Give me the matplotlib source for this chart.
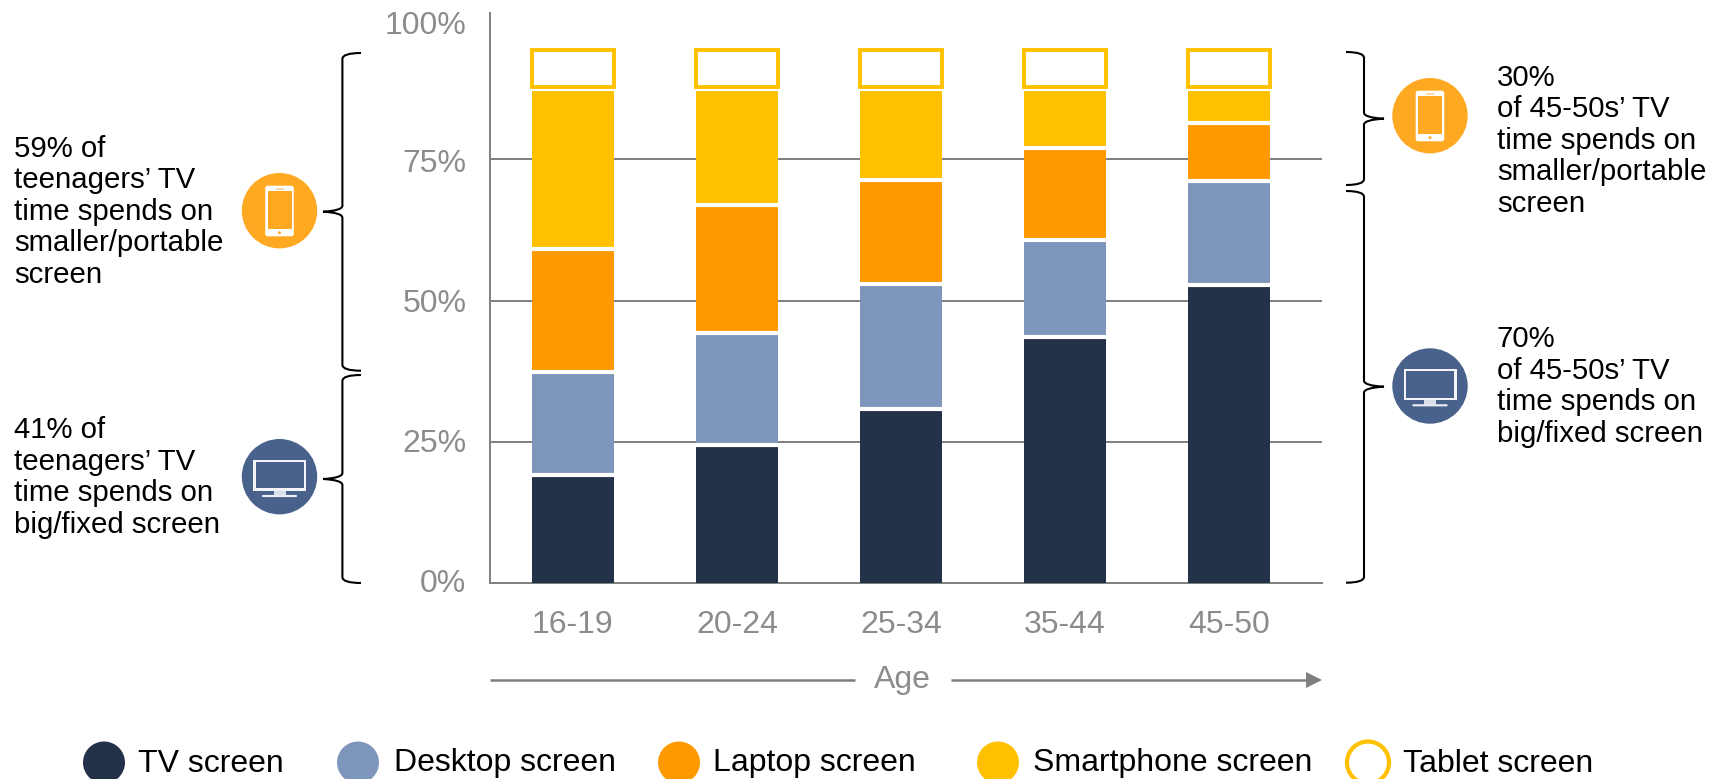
import matplotlib
matplotlib.use("Agg")
import matplotlib.pyplot as plt
from matplotlib.patches import Circle, Rectangle, FancyBboxPatch, PathPatch, Polygon
from matplotlib.path import Path
from matplotlib.transforms import Affine2D

plt.rcParams['font.family'] = ['Liberation Sans', 'DejaVu Sans']

# chart values, percent of TV time
ages = ['16-19', '20-24', '25-34', '35-44', '45-50']
tv = [19.1, 24.4, 30.8, 43.6, 52.8]
desktop = [18.2, 19.8, 22.2, 17.2, 18.3]
laptop = [21.8, 22.8, 18.3, 16.2, 10.3]
smartphone = [28.3, 20.4, 16.1, 10.4, 6.0]
tablet = [6.6, 6.6, 6.6, 6.6, 6.6]

y_ticks = [0, 25, 50, 75, 100]
y_labels = ['0%', '25%', '50%', '75%', '100%']
grid_values = [25, 50, 75]
legend_names = ['TV screen', 'Desktop screen', 'Laptop screen', 'Smartphone screen', 'Tablet screen']

NAVY = '#243249'
STEEL = '#7F96BC'
ORANGE = '#FF9900'
YELLOW = '#FFC000'
GREY = '#7F7F7F'
LABEL_GREY = '#8C8C8C'
ICON_ORANGE = '#FFA922'
ICON_BLUE = '#48628C'

W, H = 1725, 779
BAR_W = 0.5
fig = plt.figure(figsize=(W / 100, H / 100), dpi=100)

# main axes, placed by pixel
ax = fig.add_axes([490 / W, 1 - 583 / H, (1322 - 490) / W, (583 - 13) / H])
ax.set_xlim(-0.505, 4.567)
ax.set_ylim(0, 100.9)
ax.hlines(grid_values, -0.505, 4.567, color=GREY, lw=1.4, zorder=1)

x = list(range(len(ages)))
bottom = [0] * len(ages)
for vals, col in [(tv, NAVY), (desktop, STEEL), (laptop, ORANGE), (smartphone, YELLOW)]:
    ax.bar(x, vals, width=BAR_W, bottom=bottom, color=col, linewidth=0, zorder=2)
    bottom = [b + v for b, v in zip(bottom, vals)]
    # white gap on top of each segment
    ax.hlines(bottom, [i - BAR_W / 2 for i in x], [i + BAR_W / 2 for i in x], color='white', lw=3, zorder=2.5)
ax.bar(x, tablet, width=BAR_W, bottom=[b + 0.4 for b in bottom], color='white', edgecolor=YELLOW,
       linewidth=2.8, zorder=3)

ax.set_xticks(x)
ax.set_xticklabels(ages, fontsize=23, color=LABEL_GREY)
ax.set_yticks(y_ticks)
ax.set_yticklabels(y_labels, fontsize=23, color=LABEL_GREY)
ax.tick_params(axis='both', length=0)
ax.tick_params(axis='x', pad=19.5)
ax.tick_params(axis='y', pad=17)

# the value labels sit a little off the gridlines in the original
label_shift = [3, 1, 0, -1, -4]
for lab, dy in zip(ax.get_yticklabels(), label_shift):
    lab.set_transform(lab.get_transform() + Affine2D().translate(0, dy))

for side in ['top', 'right']:
    ax.spines[side].set_visible(False)
for side in ['left', 'bottom']:
    ax.spines[side].set_color(GREY)
    ax.spines[side].set_linewidth(1.4)
ax.spines['bottom'].set_zorder(1.5)

# overlay in pixel coordinates for the notes, icons and legend
ov = fig.add_axes([0, 0, 1, 1])
ov.set_xlim(0, W)
ov.set_ylim(H, 0)
ov.axis('off')
ov.patch.set_alpha(0)


def brace(x_hook, x_spine, x_tip, y_top, y_mid, y_bot):
    verts = [(x_hook, y_top), (x_spine, y_top), (x_spine, y_top + 6),
             (x_spine, y_mid - 6), (x_spine, y_mid - 1), (x_tip, y_mid),
             (x_spine, y_mid + 1), (x_spine, y_mid + 6),
             (x_spine, y_bot - 6), (x_spine, y_bot), (x_hook, y_bot)]
    codes = [Path.MOVETO, Path.CURVE3, Path.CURVE3,
             Path.LINETO, Path.CURVE3, Path.CURVE3,
             Path.CURVE3, Path.CURVE3,
             Path.LINETO, Path.CURVE3, Path.CURVE3]
    ov.add_patch(PathPatch(Path(verts, codes), fc='none', ec='black', lw=1.5))


def phone_icon(cx, cy):
    ov.add_patch(Circle((cx, cy), 37.7, color=ICON_ORANGE, lw=0))
    ov.add_patch(FancyBboxPatch((cx - 13.3, cy - 24), 26.6, 48.6, boxstyle='round,pad=1,rounding_size=2.5',
                                fc='white', ec='none'))
    ov.add_patch(Rectangle((cx - 12, cy - 19.7), 24, 38.3, fc=ICON_ORANGE, ec='none'))
    ov.add_patch(Rectangle((cx - 4, cy - 22.7), 8, 1.6, fc='#FFD9A0', ec='none'))
    ov.add_patch(Circle((cx, cy + 22), 1.5, color=ICON_ORANGE, lw=0))


def tv_icon(cx, cy):
    ov.add_patch(Circle((cx, cy), 37.7, color=ICON_BLUE, lw=0))
    ov.add_patch(Rectangle((cx - 26.5, cy - 17), 53, 31, fc='#F2F4F8', ec='none'))
    ov.add_patch(Rectangle((cx - 24, cy - 14.7), 48, 26.4, fc=ICON_BLUE, ec='none'))
    ov.add_patch(Rectangle((cx - 6, cy + 14), 12, 4.5, fc='#D9DEE8', ec='none'))
    ov.add_patch(FancyBboxPatch((cx - 17, cy + 18.8), 34, 1, boxstyle='round,pad=0.6,rounding_size=1',
                                fc='#E8EBF1', ec='none'))


brace(361, 342.4, 323, 53, 211.7, 370.7)
brace(361, 342.4, 323, 375, 479, 583)
brace(1346, 1364, 1384, 52, 118.7, 185)
brace(1346, 1364, 1384, 191, 386.7, 582.7)

phone_icon(279.5, 210.7)
tv_icon(279.5, 476.7)
phone_icon(1430, 115.7)
tv_icon(1430, 386)

notes = [
    (14, 283, '59% of\nteenagers’ TV\ntime spends on\nsmaller/portable\nscreen'),
    (14, 533, '41% of\nteenagers’ TV\ntime spends on\nbig/fixed screen'),
    (1497, 211.7, '30%\nof 45-50s’ TV\ntime spends on\nsmaller/portable\nscreen'),
    (1497, 442, '70%\nof 45-50s’ TV\ntime spends on\nbig/fixed screen'),
]
for nx, ny, s in notes:
    ov.text(nx, ny, s, fontsize=21.2, color='black', ha='left', va='baseline', linespacing=1.16)

# age arrow
ov.plot([490, 855], [680, 680], color=GREY, lw=1.8, solid_capstyle='butt')
ov.plot([951, 1308], [680, 680], color=GREY, lw=1.8, solid_capstyle='butt')
ov.add_patch(Polygon([(1306, 672), (1322, 680), (1306, 688)], fc=GREY, ec='none'))
ov.text(902, 680, 'Age', fontsize=23, color=LABEL_GREY, ha='center', va='center')

# legend, entries are unevenly spaced so it is placed by hand
dot_x = [104, 358, 679, 998]
text_x = [138, 394, 713, 1033, 1403]
for dx, col in zip(dot_x, [NAVY, STEEL, ORANGE, YELLOW]):
    ov.add_patch(Circle((dx, 762.5), 21, color=col, lw=0))
ov.add_patch(Circle((1368, 762.5), 21, fc='white', ec=YELLOW, lw=3))
for tx, name in zip(text_x, legend_names):
    ov.text(tx, 763.5, name, fontsize=23, color='black', ha='left', va='center')

fig.savefig('out.png', dpi=100)
